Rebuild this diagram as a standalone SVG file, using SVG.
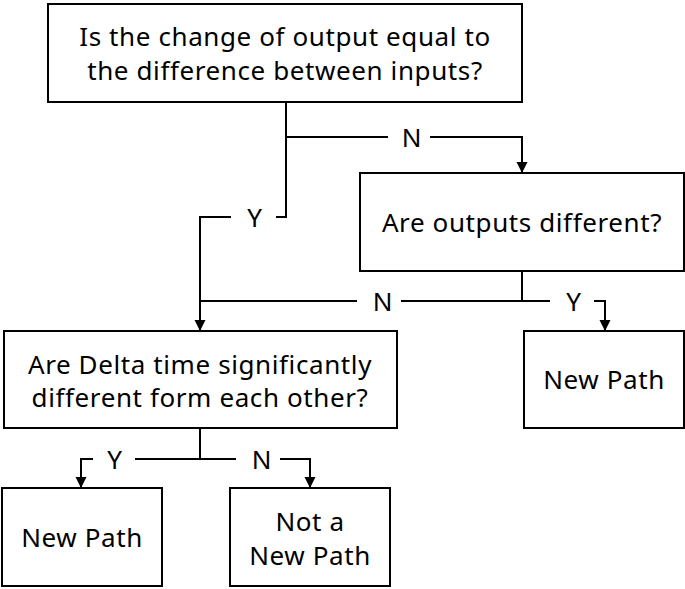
<svg xmlns="http://www.w3.org/2000/svg" width="685" height="589" viewBox="0 0 685 589">
<style>
.box{fill:#fff;stroke:#000;stroke-width:2}
.t{font-family:"Noto Sans","Open Sans",sans-serif;font-size:26px;letter-spacing:0.6px;fill:#000;text-anchor:middle}
.c{fill:none;stroke:#000;stroke-width:2}
</style>
<defs>
<marker id="ah" markerWidth="12" markerHeight="12" refX="11" refY="6" orient="auto" markerUnits="userSpaceOnUse">
<path d="M0,0.5 L11,6 L0,11.5 Z" fill="#000"/>
</marker>
</defs>
<rect width="685" height="589" fill="#fff"/>
<g id="connectors">
<path class="c" d="M286,102 V217 H276"/>
<path class="c" d="M286,137 H388"/>
<path class="c" d="M430,137 H522 V173" marker-end="url(#ah)"/>
<path class="c" d="M231,217 H200 V331" marker-end="url(#ah)"/>
<path class="c" d="M522,271 V301 H401"/>
<path class="c" d="M357,301 H200"/>
<path class="c" d="M522,301 H550"/>
<path class="c" d="M594,301 H605 V331" marker-end="url(#ah)"/>
<path class="c" d="M200,428 V459 H135"/>
<path class="c" d="M93,459 H81 V488" marker-end="url(#ah)"/>
<path class="c" d="M200,459 H236"/>
<path class="c" d="M280,459 H310 V488" marker-end="url(#ah)"/>
<text class="t" x="412" y="147">N</text>
<text class="t" x="255" y="227">Y</text>
<text class="t" x="383" y="311">N</text>
<text class="t" x="574" y="311">Y</text>
<text class="t" x="115" y="469">Y</text>
<text class="t" x="262" y="469">N</text>
</g>
<g id="q1">
<rect class="box" x="48" y="4" width="474" height="98"/>
<text class="t" x="285" y="46">Is the change of output equal to</text>
<text class="t" x="285" y="80">the difference between inputs?</text>
</g>
<g id="q2">
<rect class="box" x="360" y="173" width="324" height="98"/>
<text class="t" x="522" y="232">Are outputs different?</text>
</g>
<g id="q3">
<rect class="box" x="4" y="331" width="393" height="97"/>
<text class="t" x="200" y="374">Are Delta time significantly</text>
<text class="t" x="200" y="407">different form each other?</text>
</g>
<g id="np1">
<rect class="box" x="524" y="331" width="160" height="97"/>
<text class="t" x="604" y="389">New Path</text>
</g>
<g id="np2">
<rect class="box" x="2" y="488" width="160" height="98"/>
<text class="t" x="82" y="547">New Path</text>
</g>
<g id="np3">
<rect class="box" x="230" y="488" width="160" height="98"/>
<text class="t" x="310" y="531">Not a</text>
<text class="t" x="310" y="565">New Path</text>
</g>
</svg>
